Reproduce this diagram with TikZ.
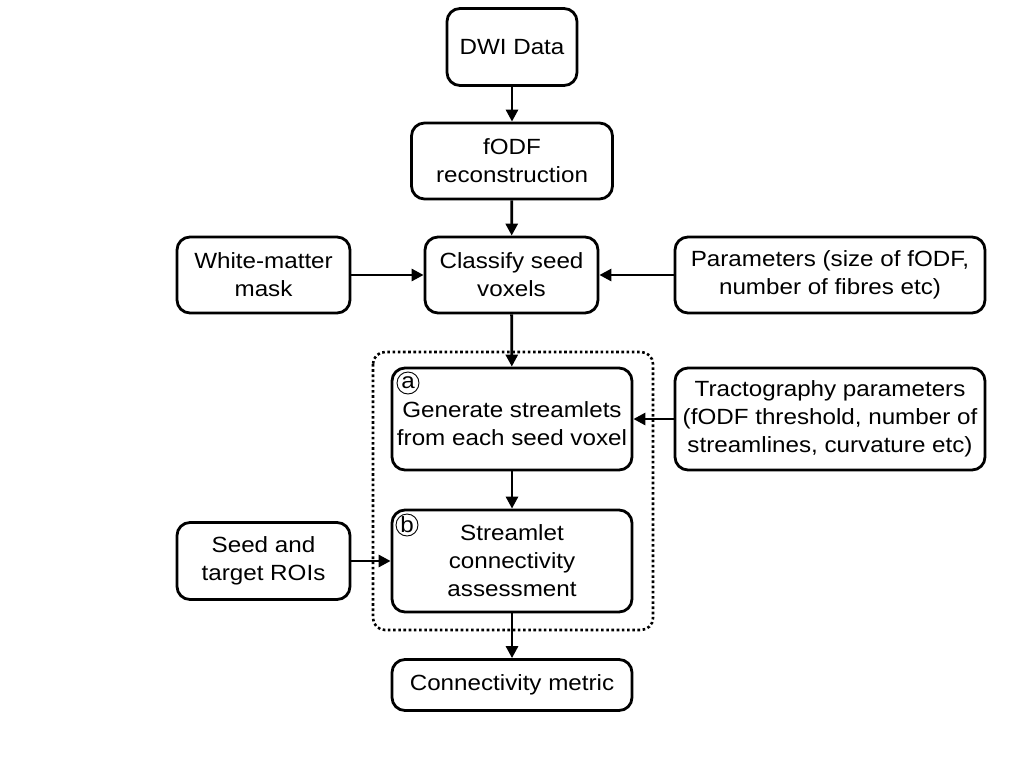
\documentclass[tikz,border=0pt]{standalone}
\usepackage{fontspec}
\setmainfont{Liberation Sans}[FakeStretch=1.1]
\usetikzlibrary{arrows.meta}
\begin{document}
\begin{tikzpicture}[x=1pt,y=-1pt,
  txt/.style={align=center,font=\fontsize{22}{28}\selectfont,inner sep=0pt},
  box/.style={txt,draw,line width=2.8pt,rounded corners=13pt},
  arr/.style={line width=2.8pt,-{Triangle[length=12pt,width=12pt]}},
  letter/.style={draw,circle,line width=0.9pt,inner sep=0pt,minimum size=22pt,font=\fontsize{22}{22}\selectfont}]
\useasboundingbox (0,0) rectangle (1024,768);
\draw[line width=2.6pt,dash pattern=on 2.6pt off 2.6pt,rounded corners=12pt] (373,352) rectangle (653,630);
\node[box,minimum width=130pt,minimum height=77pt] (dwi) at (512,47) {DWI Data};
\node[box,minimum width=201pt,minimum height=76pt] (fodf) at (512,161) {fODF\\reconstruction};
\node[box,minimum width=173pt,minimum height=76pt] (cls) at (511.5,275) {Classify seed\\voxels};
\node[box,minimum width=173pt,minimum height=76pt] (wm) at (263.5,275) {White-matter\\mask};
\node[box,minimum width=310pt,minimum height=76pt] (par) at (830,275) {Parameters (size of fODF,\\number of fibres etc)};
\node[box,minimum width=240pt,minimum height=102pt] (gen) at (512,419) {};
\node[txt] (gentext) at (512,424) {Generate streamlets\\from each seed voxel};
\node[box,minimum width=310pt,minimum height=102pt] (trp) at (830,419) {Tractography parameters\\(fODF threshold, number of\\streamlines, curvature etc)};
\node[box,minimum width=240pt,minimum height=102pt] (sca) at (512,561) {Streamlet\\connectivity\\assessment};
\node[box,minimum width=173pt,minimum height=77pt] (roi) at (263.5,561) {Seed and\\target ROIs};
\node[box,minimum width=240pt,minimum height=51pt] (met) at (512,685) {Connectivity metric};
\node[letter] (la) at (408,383) {a};
\node[letter] (lb) at (407,525) {b};
\draw[arr] (dwi) -- (fodf);
\draw[arr] (fodf) -- (cls);
\draw[arr] (cls) -- (gen);
\draw[arr] (gen) -- (sca);
\draw[arr] (sca) -- (met);
\draw[arr] (wm) -- (cls);
\draw[arr] (par) -- (cls);
\draw[arr] (trp) -- (gen);
\draw[arr] (roi) -- (sca);
\end{tikzpicture}
\end{document}
